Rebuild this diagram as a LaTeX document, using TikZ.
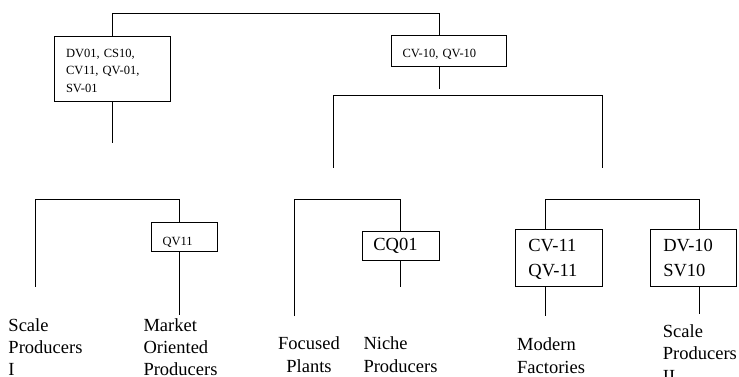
\documentclass[tikz,border=0pt]{standalone}
\usepackage{fontspec}
\setmainfont{Liberation Serif}
\begin{document}
\begin{tikzpicture}[x=1pt,y=-1pt]
\tikzset{
  conn/.style={draw=black, line width=0.8pt},
  box/.style={draw=black, line width=0.8pt, inner ysep=0pt, align=left},
  small/.style={font=\fontsize{12.5}{17.5}\selectfont},
  big/.style={font=\fontsize{18.5}{25}\selectfont},
  lbl/.style={font=\fontsize{18.5}{21.7}\selectfont, inner sep=0pt, align=left, anchor=base west},
}
\useasboundingbox (0,0) rectangle (739,377);

% boxes (text height = distance from top edge to first baseline)
\node[box, small, minimum width=116pt, text height=21.5pt, text depth=43.5pt, text width=92pt, inner xsep=12pt] (b1) at (112,68.5) {DV01, CS10,\\CV11, QV-01,\\SV-01};
\node[box, small, minimum width=115pt, text height=22.3pt, text depth=8.7pt, text width=92pt, inner xsep=11.5pt] (b2) at (448.5,50.5) {CV-10, QV-10};
\node[box, small, minimum width=66.7pt, text height=22.7pt, text depth=6.7pt, text width=43.3pt, inner xsep=11.7pt] (q) at (184.3,237) {QV11};
\node[box, big, minimum width=76.7pt, text height=19.5pt, text depth=9.5pt, text width=54.7pt, inner xsep=11pt] (cq) at (400.7,245.5) {CQ01};
\node[box, big, minimum width=86.3pt, text height=22.7pt, text depth=34.3pt, text width=61pt, inner xsep=12.6pt] (cv) at (558.9,257.5) {CV-11\\QV-11};
\node[box, big, minimum width=86pt, text height=22.7pt, text depth=34.3pt, text width=59.4pt, inner xsep=13.3pt] (dv) at (693,257.5) {DV-10\\SV10};

% coordinates
\coordinate (tl) at (112,13);
\coordinate (tr) at (439,13);
\coordinate (b1e) at (112,143);
\coordinate (b2e) at (439,89.3);
\coordinate (m1t) at (333,95.3);
\coordinate (m2t) at (602.3,95.3);
\coordinate (m1) at (333,167.7);
\coordinate (m2) at (602.3,167.7);
\coordinate (l1) at (35,286.7);
\coordinate (l1t) at (35,199.3);
\coordinate (l2t) at (179.3,199.3);
\coordinate (l2e) at (179.3,315);
\coordinate (f1) at (294,316);
\coordinate (f1t) at (294,199.3);
\coordinate (f2t) at (400.7,199.3);
\coordinate (f2e) at (400.7,286.7);
\coordinate (r1t) at (545,199.3);
\coordinate (r2t) at (699,199.3);
\coordinate (r1e) at (545,315.7);
\coordinate (r2e) at (699,314);

% connectors
\draw[conn] (b1.north) -- (tl) -- (tr) -- (b2.north -| tr);
\draw[conn] (b1.south) -- (b1e);
\draw[conn] (b2.south -| tr) -- (b2e);
\draw[conn] (m1) -- (m1t) -- (m2t) -- (m2);
\draw[conn] (l1) -- (l1t) -- (l2t) -- (q.north -| l2t);
\draw[conn] (q.south -| l2t) -- (l2e);
\draw[conn] (f1) -- (f1t) -- (f2t) -- (cq.north);
\draw[conn] (cq.south) -- (f2e);
\draw[conn] (cv.north -| r1t) -- (r1t) -- (r2t) -- (dv.north -| r2t);
\draw[conn] (cv.south -| r1t) -- (r1e);
\draw[conn] (dv.south -| r2t) -- (r2e);

% labels (base anchor = baseline of the last line)
\node[lbl] (sp1) at (8.3,375) {Scale\\Producers\\I};
\node[lbl] (mop) at (143.3,375) {Market\\Oriented\\Producers};
\node[lbl, font=\fontsize{18.5}{23.4}\selectfont, align=center, anchor=base] (fp) at (309,372.7) {Focused\\Plants};
\node[lbl, font=\fontsize{18.5}{23.4}\selectfont] (np) at (363.3,372.7) {Niche\\Producers};
\node[lbl, font=\fontsize{18.5}{23}\selectfont] (mf) at (517,373) {Modern\\Factories};
\node[lbl, font=\fontsize{18.5}{22.5}\selectfont] (sp2) at (662.7,382) {Scale\\Producers\\II};
\end{tikzpicture}
\end{document}
